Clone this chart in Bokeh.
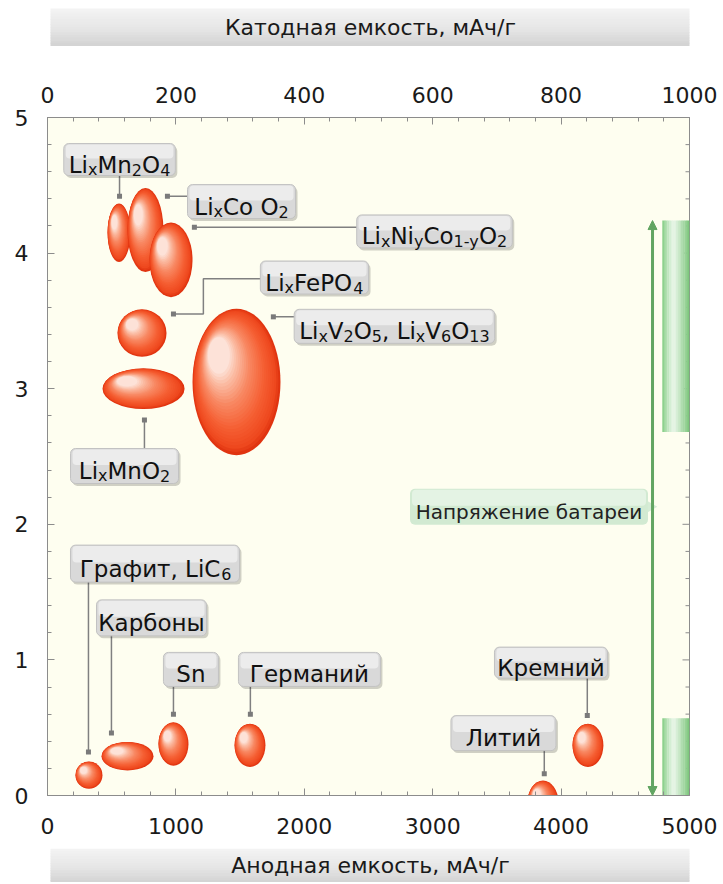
import math
import numpy as np
from bokeh.plotting import figure
from bokeh.models import ColumnDataSource, Range1d, LinearAxis, SingleIntervalTicker, Arrow, NormalHead
from bokeh.layouts import column
from bokeh.core.properties import value
from bokeh.embed import file_html
from bokeh.resources import INLINE

FONT = "DejaVu Sans"

# ---------------- data ----------------
materials = ["LixMn2O4", "LixCoO2", "LixNiyCo1-yO2", "LixFePO4", "LixMnO2",
             "LixV2O5, LixV6O13", "Графит, LiC6", "Карбоны", "Sn", "Германий",
             "Кремний", "Литий"]
capacity = [557, 763, 962, 736, 748, 1472, 323, 623, 981, 1577, 4209, 3859]       # mAh/g (anode scale)
voltage = [4.15, 4.17, 3.95, 3.41, 3.00, 3.05, 0.15, 0.29, 0.38, 0.37, 0.37, -0.05]
capacity_spread = [179, 280, 335, 382, 639, 685, 210, 405, 234, 241, 241, 241]
voltage_spread = [0.43, 0.62, 0.55, 0.35, 0.30, 1.08, 0.20, 0.21, 0.32, 0.32, 0.32, 0.32]

cathode_band = [2.68, 4.24]
anode_band = [0.0, 0.57]
battery_voltage = [0.0, 4.24]

x_title_top = "Катодная емкость, мАч/г"
x_title_bottom = "Анодная емкость, мАч/г"
voltage_label = "Напряжение батареи"

# ---------------- layout constants ----------------
W_FIG = 720
FRAME_L, FRAME_R = 47, 689
FRAME_W, FRAME_H = FRAME_R - FRAME_L, 678
XPX = 5000.0 / FRAME_W
YPX = 5.0 / FRAME_H

# label annotations: segments (text, is_subscript), box centre, ref width, height, connector path
LABELS = [
    dict(segs=[("Li", 0), ("x", 1), ("Mn", 0), ("2", 1), ("O", 0), ("4", 1)], at=(561, 4.69), w=108, h=32,
         path=[(561, 4.69), (561, 4.42)]),
    dict(segs=[("Li", 0), ("x", 1), ("Co O", 0), ("2", 1)], at=(1511, 4.38), w=108, h=34,
         path=[(1511, 4.42), (934, 4.42)]),
    dict(segs=[("Li", 0), ("x", 1), ("Ni", 0), ("y", 1), ("Co", 0), ("1-y", 1), ("O", 0), ("2", 1)], at=(3014, 4.16), w=142, h=33,
         path=[(3014, 4.19), (1144, 4.19)]),
    dict(segs=[("Li", 0), ("x", 1), ("FePO", 0), ("4", 1)], at=(2079, 3.82), w=108, h=33,
         path=[(2079, 3.81), (1214, 3.81), (1214, 3.55), (981, 3.55)]),
    dict(segs=[("Li", 0), ("x", 1), ("V", 0), ("2", 1), ("O", 0), ("5", 1), (", Li", 0), ("x", 1), ("V", 0), ("6", 1), ("O", 0), ("13", 1)],
         at=(2702, 3.46), w=188, h=34, path=[(2702, 3.53), (1759, 3.53)]),
    dict(segs=[("Li", 0), ("x", 1), ("MnO", 0), ("2", 1)], at=(600, 2.43), w=108, h=35,
         path=[(755, 2.43), (755, 2.77)]),
    dict(segs=[("Графит, LiC", 0), ("6", 1)], split=True, at=(837, 1.71), w=169, h=37,
         path=[(319, 1.71), (319, 0.32)]),
    dict(segs=[("Карбоны", 0)], at=(810, 1.31), w=108, h=36, path=[(498, 1.31), (498, 0.46)]),
    dict(segs=[("Sn", 0)], at=(1117, 0.93), w=55, h=34, path=[(981, 0.93), (981, 0.60)]),
    dict(segs=[("Германий", 0)], at=(2040, 0.93), w=142, h=34, path=[(1580, 0.93), (1580, 0.60)]),
    dict(segs=[("Кремний", 0)], at=(3921, 0.98), w=113, h=31, path=[(4204, 0.98), (4204, 0.59)]),
    dict(segs=[("Литий", 0)], at=(3551, 0.46), w=105, h=35, path=[(3869, 0.46), (3869, 0.16)]),
]

CW = {'L': .557, 'i': .278, 'x': .592, 'M': .863, 'n': .634, 'O': .787, 'C': .698, 'o': .612,
      'N': .748, 'y': .592, 'F': .575, 'e': .615, 'P': .603, 'V': .684, ',': .318, ' ': .318,
      '-': .361, 'S': .635, 'Г': .58, 'р': .635, 'а': .613, 'ф': .9, 'и': .652, 'т': .58}
MAIN_FS, SUB_FS = 23, 16
MAIN_YO, SUB_YO = 5, 10


def text_w(s, fs):
    return sum(CW.get(c, 0.636 if c.isdigit() else 0.62) for c in s) * fs


def hexc(c):
    return "#%02x%02x%02x" % tuple(int(round(v)) for v in c)


def interp(stops, t):
    for (t0, c0), (t1, c1) in zip(stops[:-1], stops[1:]):
        if t <= t1:
            f = 0 if t1 == t0 else (t - t0) / (t1 - t0)
            return hexc([a + (b - a) * f for a, b in zip(c0, c1)])
    return hexc(stops[-1][1])


# ---------------- main figure ----------------
p = figure(width=W_FIG, height=798, x_range=Range1d(0, 5000), y_range=Range1d(0, 5),
           output_backend="svg", toolbar_location=None,
           min_border_left=FRAME_L, min_border_right=W_FIG - FRAME_R,
           min_border_top=67, min_border_bottom=53,
           background_fill_color="#FEFEF0", border_fill_color="white",
           outline_line_color="#8c8c8c")
p.grid.visible = False
bottom_ax = p.below[0]
left_ax = p.left[0]
p.extra_x_ranges = {"cath": Range1d(0, 1000)}
top_ax = LinearAxis(x_range_name="cath", ticker=SingleIntervalTicker(interval=200, num_minor_ticks=5))
p.add_layout(top_ax, "above")

bottom_ax.ticker = SingleIntervalTicker(interval=1000, num_minor_ticks=5)
left_ax.ticker = SingleIntervalTicker(interval=1, num_minor_ticks=5)

for ax in [bottom_ax, left_ax, top_ax]:
    ax.axis_line_color = "#8c8c8c"
    ax.major_tick_line_color = "#8c8c8c"
    ax.minor_tick_line_color = "#8c8c8c"
    ax.major_tick_in = 7
    ax.major_tick_out = 0
    ax.minor_tick_in = 4
    ax.minor_tick_out = 0
    ax.major_label_text_font = FONT
    ax.major_label_text_font_size = "22px"
    ax.major_label_text_color = "#1a1a1a"
bottom_ax.major_label_standoff = 22
top_ax.major_label_standoff = 15
left_ax.major_label_standoff = 19

# inward ticks on the right frame edge (same tick positions as the left axis)
rt = np.round(np.arange(0, 5.0001, 0.2), 3)
rlen = np.where(np.isclose(rt % 1, 0) | np.isclose(rt % 1, 1), 7, 4)
p.segment(x0=[5000] * len(rt), y0=rt, x1=5000 - rlen * XPX, y1=rt, line_color="#8c8c8c", line_width=1)

# green voltage bands with horizontal gradient
BAND_X0 = 4788
gstops = [(0.0, (0x86, 0xcd, 0x86)), (0.32, (0xdc, 0xf1, 0xdc)), (0.45, (0xe6, 0xf5, 0xe6)), (1.0, (0x78, 0xc4, 0x78))]
bq = dict(left=[], right=[], top=[], bottom=[], color=[])
NS = 16
for (b0, b1) in [cathode_band, anode_band]:
    for j in range(NS):
        u0, u1 = j / NS, (j + 1) / NS
        bq["left"].append(BAND_X0 + (5000 - BAND_X0) * u0)
        bq["right"].append(BAND_X0 + (5000 - BAND_X0) * u1 + 2)
        bq["bottom"].append(b0)
        bq["top"].append(b1)
        bq["color"].append(interp(gstops, (u0 + u1) / 2))
p.quad(left="left", right="right", top="top", bottom="bottom", fill_color="color",
       line_color=None, source=ColumnDataSource(bq))

# battery voltage arrow
ARROW_X = 4712
acol = "#62a562"
p.add_layout(Arrow(x_start=ARROW_X, y_start=battery_voltage[0], x_end=ARROW_X, y_end=battery_voltage[1],
                   line_color=acol, line_width=3,
                   start=NormalHead(size=9, fill_color=acol, line_color=acol),
                   end=NormalHead(size=9, fill_color=acol, line_color=acol)))

# voltage label box
VL_X, VL_Y, VL_W, VL_H = 3750, 2.13, 238, 36
p.rect([VL_X], [VL_Y], width=VL_W, height=VL_H, width_units="screen", height_units="screen",
       fill_color="#d2ead2", line_color=None, border_radius=5)
p.rect([VL_X], [VL_Y + VL_H / 4 * YPX], width=VL_W - 4, height=VL_H / 2 - 2, width_units="screen",
       height_units="screen", fill_color="#e4f3e4", line_color=None, border_radius=4)
p.scatter([VL_X + (VL_W / 2 + 3) * XPX], [VL_Y], marker="triangle", angle=-math.pi / 2, size=11,
          fill_color="#d6ecd6", line_color=None)
p.text([VL_X], [VL_Y], text=[voltage_label], x_offset=0, y_offset=5, text_align="center",
       text_baseline="alphabetic", text_font=value(FONT), text_font_size="20px", text_color="#222222")

# ellipses with radial-like gradient (layered)
estops = [(0.0, (0xE0, 0x34, 0x10)), (0.08, (0xEE, 0x48, 0x1E)), (0.3, (0xF5, 0x5E, 0x32)),
          (0.6, (0xF8, 0x88, 0x62)), (0.85, (0xFB, 0xBC, 0xA4)), (1.0, (0xFD, 0xE2, 0xD8))]
es = dict(x=[], y=[], w=[], h=[], c=[])
NL = 26
for cx, cy, w, h in zip(capacity, voltage, capacity_spread, voltage_spread):
    for k in range(NL):
        t = k / (NL - 1)
        s = 1 - 0.75 * t
        es["x"].append(cx - 0.2 * w * t)
        es["y"].append(cy + 0.18 * h * t)
        es["w"].append(w * s)
        es["h"].append(h * s)
        es["c"].append(interp(estops, t))
p.ellipse(x="x", y="y", width="w", height="h", fill_color="c", line_color=None,
          source=ColumnDataSource(es))

# connectors
p.multi_line(xs=[[q[0] for q in L["path"]] for L in LABELS], ys=[[q[1] for q in L["path"]] for L in LABELS],
             line_color="#808080", line_width=1.5)
p.scatter([L["path"][-1][0] for L in LABELS], [L["path"][-1][1] for L in LABELS], marker="square",
          size=5, fill_color="#7a7a7a", line_color=None)

# label boxes and texts
main_l = dict(x=[], y=[], xo=[], t=[])
main_r = dict(x=[], y=[], xo=[], t=[])
sub_l = dict(x=[], y=[], xo=[], t=[])
cen = dict(x=[], y=[], t=[])
boxes = dict(x=[], y=[], w=[], h=[], sx=[], sy=[], hy=[], hw=[], hh=[])
for L in LABELS:
    cx, cy = L["at"]
    segs = L["segs"]
    widths = [text_w(t, SUB_FS if s else MAIN_FS) for t, s in segs]
    tw = sum(widths)
    bw = max(L["w"], tw + 10)
    bh = L["h"]
    boxes["x"].append(cx); boxes["y"].append(cy); boxes["w"].append(bw); boxes["h"].append(bh)
    boxes["sx"].append(cx + 2 * XPX); boxes["sy"].append(cy - 2.5 * YPX)
    boxes["hy"].append(cy + (bh / 4) * YPX); boxes["hw"].append(bw - 4); boxes["hh"].append(bh / 2 - 2)
    if len(segs) == 1:
        cen["x"].append(cx); cen["y"].append(cy); cen["t"].append(segs[0][0])
    elif L.get("split"):
        r = -tw / 2 + widths[0]
        main_r["x"].append(cx); main_r["y"].append(cy); main_r["xo"].append(r); main_r["t"].append(segs[0][0])
        sub_l["x"].append(cx); sub_l["y"].append(cy); sub_l["xo"].append(r + 1); sub_l["t"].append(segs[1][0])
    else:
        pos = -tw / 2
        for (t, s), wd in zip(segs, widths):
            d = sub_l if s else main_l
            d["x"].append(cx); d["y"].append(cy); d["xo"].append(pos); d["t"].append(t)
            pos += wd
bsrc = ColumnDataSource(boxes)
p.rect(x="sx", y="sy", width="w", height="h", width_units="screen", height_units="screen",
       fill_color="#000000", fill_alpha=0.18, line_color=None, border_radius=5, source=bsrc)
p.rect(x="x", y="y", width="w", height="h", width_units="screen", height_units="screen",
       fill_color="#d9d9d9", line_color="#c2c2c2", border_radius=5, source=bsrc)
p.rect(x="x", y="hy", width="hw", height="hh", width_units="screen", height_units="screen",
       fill_color="#ececec", line_color=None, border_radius=4, source=bsrc)

for src, al, yo, fs in [(main_l, "left", MAIN_YO, MAIN_FS), (main_r, "right", MAIN_YO, MAIN_FS),
                        (sub_l, "left", SUB_YO, SUB_FS)]:
    p.text(x="x", y="y", text="t", x_offset="xo", y_offset=yo, text_align=al, text_baseline="alphabetic",
           text_font=value(FONT), text_font_size=f"{fs}px", text_color="#111111",
           source=ColumnDataSource(src))
p.text(x="x", y="y", text="t", y_offset=MAIN_YO, text_align="center", text_baseline="alphabetic",
       text_font=value(FONT), text_font_size=f"{MAIN_FS}px", text_color="#111111",
       source=ColumnDataSource(cen))


# ---------------- title bars ----------------
def bar_fig(title, height, y0, y1):
    f = figure(width=W_FIG, height=height, x_range=Range1d(FRAME_L, FRAME_R), y_range=Range1d(height, 0),
               output_backend="svg", toolbar_location=None, x_axis_type=None, y_axis_type=None,
               min_border_left=FRAME_L, min_border_right=W_FIG - FRAME_R, min_border_top=0,
               min_border_bottom=0, outline_line_color=None, background_fill_color="white",
               border_fill_color="white")
    f.grid.visible = False
    gst = [(0.0, (0xf4, 0xf4, 0xf4)), (0.6, (0xe4, 0xe4, 0xe4)), (1.0, (0xd2, 0xd2, 0xd2))]
    n = 14
    q = dict(l=[], r=[], t=[], b=[], c=[])
    for j in range(n):
        q["l"].append(50); q["r"].append(690)
        q["t"].append(y0 + (y1 - y0) * j / n); q["b"].append(y0 + (y1 - y0) * (j + 1) / n + 0.6)
        q["c"].append(interp(gst, (j + 0.5) / n))
    f.quad(left="l", right="r", top="t", bottom="b", fill_color="c", line_color=None, source=ColumnDataSource(q))
    f.text([370], [(y0 + y1) / 2], text=[title], text_align="center", text_baseline="middle",
           text_font=value(FONT), text_font_size="22px", text_color="#1a1a1a")
    return f


top = bar_fig(x_title_top, 50, 8, 45)
bot = bar_fig(x_title_bottom, 34, 0, 34)

layout = column(top, p, bot, spacing=0)
open("out.html", "w").write(file_html(layout, INLINE))
